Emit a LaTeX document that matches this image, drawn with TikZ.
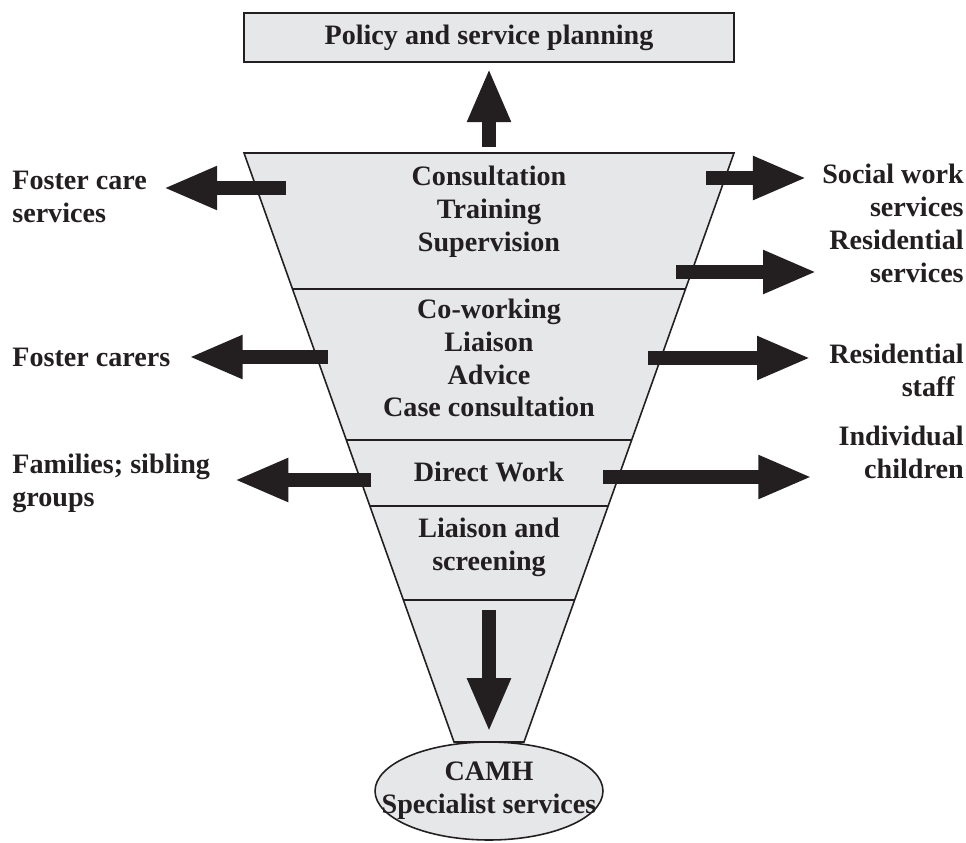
\documentclass[tikz,border=0pt]{standalone}
\usepackage{fontspec}
\setmainfont{Liberation Serif}
\usetikzlibrary{arrows.meta,calc,shapes.geometric}
\definecolor{funnelgray}{RGB}{230,231,233}
\definecolor{inkblack}{RGB}{35,31,32}
\begin{document}
\begin{tikzpicture}[x=0.02cm,y=-0.02cm,
    every node/.style={font=\fontsize{16}{18.7}\selectfont\bfseries, text=inkblack},
    sidetext/.style={inner sep=0pt},
    tiertext/.style={align=center},
    bigarrow/.style={draw=inkblack, line width=0.28cm,
        -{Triangle[width=0.8cm,length=1.08cm]}},
    edgeline/.style={draw=inkblack, line width=0.9pt}]
    \useasboundingbox (0,0) rectangle (966,842);

    % top box
    \node[edgeline, line width=1.2pt, fill=funnelgray, minimum width=9.8cm,
        minimum height=0.98cm] (policy) at (489,37.5) {Policy and service planning};

    % funnel
    \coordinate (tl) at (244,153);
    \coordinate (tr) at (734,153);
    \coordinate (bl) at (454,742);
    \coordinate (br) at (524,742);
    \draw[edgeline, fill=funnelgray] (tl) -- (tr) -- (br) -- (bl) -- cycle;
    \foreach \y in {289,440,506,600} {
        \pgfmathsetmacro\t{(\y-153)/589}
        \draw[edgeline] ($(tl)!\t!(bl)$) -- ($(tr)!\t!(br)$);
    }

    \node[tiertext] (tier1) at (489,212) {Consultation\\Training\\Supervision};
    \node[tiertext] (tier2) at (489,358) {Co-working\\Liaison\\Advice\\Case consultation};
    \node[tiertext] (tier3) at (489,472) {Direct Work};
    \node[tiertext] (tier4) at (489,547) {Liaison and\\screening};

    % specialist services
    \node[ellipse, edgeline, fill=funnelgray, minimum width=4.56cm,
        minimum height=1.96cm, inner sep=0pt] (camh) at (489,791) {};
    \node[tiertext] (camhtext) at (camh.center) {CAMH\\Specialist services};

    % side labels
    \node[sidetext, anchor=west, align=left] (fostercare) at (12,197) {Foster care\\services};
    \node[sidetext, anchor=west] (fostercarers) at (12,357) {Foster carers};
    \node[sidetext, anchor=west, align=left] (families) at (12,483) {Families; sibling\\groups};
    \node[sidetext, anchor=east, align=right] (socialwork) at (964,190) {Social work\\services};
    \node[sidetext, anchor=east, align=right] (resservices) at (964,256) {Residential\\services};
    \node[sidetext, anchor=east, align=right] (resstaff) at (964,370) {Residential\\staff\hspace*{5pt}};
    \node[sidetext, anchor=east, align=right] (children) at (964,452) {Individual\\children};

    % arrows
    \coordinate (up-tail) at (489,147);
    \coordinate (down-tail) at (489,610);
    \coordinate (fc-tail) at (286,188);
    \coordinate (fcr-tail) at (328,357);
    \coordinate (fam-tail) at (371,480);
    \coordinate (sw-tail) at (706,178);
    \coordinate (rs-tail) at (676,272);
    \coordinate (rst-tail) at (648,358);
    \coordinate (ch-tail) at (603,477);

    \draw[bigarrow, shorten >=0.1cm] (up-tail) -- (policy.south);
    \draw[bigarrow, shorten >=0.18cm] (down-tail) -- (camh.north);
    \draw[bigarrow, shorten >=0.32cm] (fc-tail) -- (fc-tail -| fostercare.east);
    \draw[bigarrow, shorten >=0.36cm] (fcr-tail) -- (fcr-tail -| fostercarers.east);
    \draw[bigarrow, shorten >=0.48cm] (fam-tail) -- (fam-tail -| families.east);
    \draw[bigarrow, shorten >=0.3cm] (sw-tail) -- (sw-tail -| socialwork.west);
    \draw[bigarrow, shorten >=0.24cm] (rs-tail) -- (rs-tail -| resservices.west);
    \draw[bigarrow, shorten >=0.36cm] (rst-tail) -- (rst-tail -| resstaff.west);
    \draw[bigarrow, shorten >=0.52cm] (ch-tail) -- (ch-tail -| children.west);
\end{tikzpicture}
\end{document}
